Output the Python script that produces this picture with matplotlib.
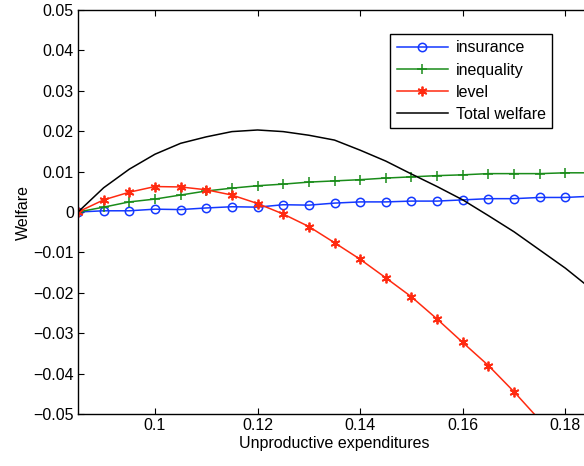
import matplotlib
matplotlib.use('Agg')
import matplotlib.pyplot as plt

plt.rcParams['font.family'] = ['Liberation Sans', 'DejaVu Sans']
plt.rcParams['font.size'] = 11.5
plt.rcParams['axes.unicode_minus'] = True

# unproductive expenditures grid
x = [0.085, 0.09, 0.095, 0.1, 0.105, 0.11, 0.115, 0.12, 0.125, 0.13, 0.135,
     0.14, 0.145, 0.15, 0.155, 0.16, 0.165, 0.17, 0.175, 0.18, 0.185]

insurance = [0.0, 0.0003, 0.0003, 0.0007, 0.0006, 0.001, 0.0013, 0.0012, 0.0018, 0.0017, 0.0022,
             0.0025, 0.0025, 0.0027, 0.0027, 0.003, 0.0033, 0.0033, 0.0036, 0.0036, 0.0039]
inequality = [0.0, 0.0012, 0.0025, 0.0032, 0.0042, 0.0052, 0.0059, 0.0065, 0.0069, 0.0074, 0.0077,
              0.008, 0.0084, 0.0087, 0.009, 0.0092, 0.0095, 0.0095, 0.0095, 0.0097, 0.0097]
level = [0.0, 0.003, 0.0049, 0.0063, 0.0062, 0.0055, 0.0042, 0.0021, -0.0005, -0.0036, -0.0076,
         -0.0117, -0.0163, -0.021, -0.0265, -0.0323, -0.038, -0.0445, -0.0515, -0.059, -0.067]
total = [0.0, 0.006, 0.0106, 0.0143, 0.017, 0.0186, 0.0199, 0.0203, 0.0199, 0.019, 0.0178,
         0.0153, 0.0126, 0.0094, 0.0063, 0.003, -0.0009, -0.0049, -0.0094, -0.0139, -0.019]

yticks = [-0.05, -0.04, -0.03, -0.02, -0.01, 0, 0.01, 0.02, 0.03, 0.04, 0.05]
ytick_labels = ['\u22120.05', '\u22120.04', '\u22120.03', '\u22120.02', '\u22120.01', '0',
                '0.01', '0.02', '0.03', '0.04', '0.05']
xticks = [0.1, 0.12, 0.14, 0.16, 0.18]
xtick_labels = ['0.1', '0.12', '0.14', '0.16', '0.18']

fig = plt.figure(figsize=(5.84, 4.66), dpi=100)
ax = fig.add_axes([78 / 584, 52 / 466, (591 - 78) / 584, (414 - 10) / 466])

ax.plot(x, insurance, color='#1438ff', marker='o', markersize=6, mfc='none', mew=1.1, lw=1.1, label='insurance')
ax.plot(x, inequality, color='#1a8c1a', marker='+', markersize=7, mew=1.1, lw=1.1, label='inequality')
ax.plot(x, level, color='#ff2a10', marker=(6, 2, 0), markersize=7, mew=1.3, lw=1.1, label='level')
ax.plot(x, total, color='black', lw=1.1, label='Total welfare')

ax.set_xlim(0.085, 0.185)
ax.set_ylim(-0.05, 0.05)
ax.set_xticks(xticks)
ax.set_xticklabels(xtick_labels)
ax.set_yticks(yticks)
ax.set_yticklabels(ytick_labels)
ax.tick_params(direction='in', top=True, right=True, length=4, width=0.8, pad=3)
for s in ax.spines.values():
    s.set_linewidth(1.0)

ax.set_xlabel('Unproductive expenditures', labelpad=2)
ax.set_ylabel('Welfare', labelpad=2)

leg = ax.legend(loc='upper right', bbox_to_anchor=(552 / 584, (466 - 34) / 466),
                bbox_transform=fig.transFigure, borderaxespad=0, fancybox=False,
                edgecolor='black', framealpha=1, handlelength=3.2, labelspacing=0.45,
                borderpad=0.4, handletextpad=0.5)
leg.get_frame().set_linewidth(1.0)

fig.savefig('out.png', dpi=100)
